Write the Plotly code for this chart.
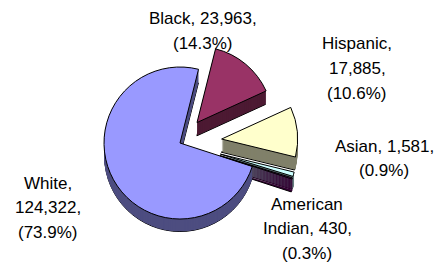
import plotly.graph_objects as go

# ---- data ----
categories = ["White", "Black", "Hispanic", "Asian", "American Indian"]
values = [124322, 23963, 17885, 1581, 430]
percent_labels = [73.9, 14.3, 10.6, 0.9, 0.3]
top_colors = ["#9999FF", "#993366", "#FFFFCC", "#CCFFFF", "#660066"]
side_colors = ["#4D4D80", "#4D1A33", "#80806A", "#668080", "#330033"]
pulls = [0, 0.35, 0.55, 0.55, 0.55]
line_groups = [[1, 1, 1], [2, 1], [1, 1, 1], [2, 1], [1, 2, 1]]

# ---- layout constants (pixels) ----
W, H = 443, 265
CX, CY, R, DEPTH = 172, 135, 76, 14
ROT = 108
label_x = [40, 195, 349, 376, 299]
label_y0 = [175, 11, 36, 138, 196]
LINE_STEP = 24.5

half = R * (1 + max(pulls))
fig = go.Figure()


def add_pie(dy, colors, line_w):
    yc = H - (CY + dy)
    fig.add_trace(go.Pie(
        labels=categories, values=values, sort=False, direction="clockwise",
        rotation=ROT, pull=pulls, textinfo="none", hoverinfo="skip",
        showlegend=False,
        marker=dict(colors=colors, line=dict(color="black", width=line_w)),
        domain=dict(x=[(CX - half) / W, (CX + half) / W],
                    y=[max(0, (yc - half) / H), min(1, (yc + half) / H)]),
    ))


# side walls (deepest first), then top face
for d in range(DEPTH, 0, -1):
    add_pie(d, side_colors, 1 if d == DEPTH else 0)
add_pie(0, top_colors, 1)

# labels
annotations = []
for i, name in enumerate(categories):
    words = name.split(" ")
    words[-1] = words[-1] + ","
    tokens = words + [f"{values[i]:,},", f"({percent_labels[i]}%)"]
    k = 0
    for j, g in enumerate(line_groups[i]):
        line = " ".join(tokens[k:k + g])
        k += g
        annotations.append(dict(
            text=line, x=label_x[i] / W, y=(H - (label_y0[i] + j * LINE_STEP)) / H,
            xref="paper", yref="paper", xanchor="center", yanchor="middle",
            showarrow=False,
            font=dict(family="Arial, Liberation Sans, sans-serif", size=17, color="black"),
        ))

fig.update_layout(
    width=W, height=H, margin=dict(l=0, r=0, t=0, b=0),
    paper_bgcolor="white", plot_bgcolor="white",
    annotations=annotations, showlegend=False,
)
fig.write_html("out.html")
